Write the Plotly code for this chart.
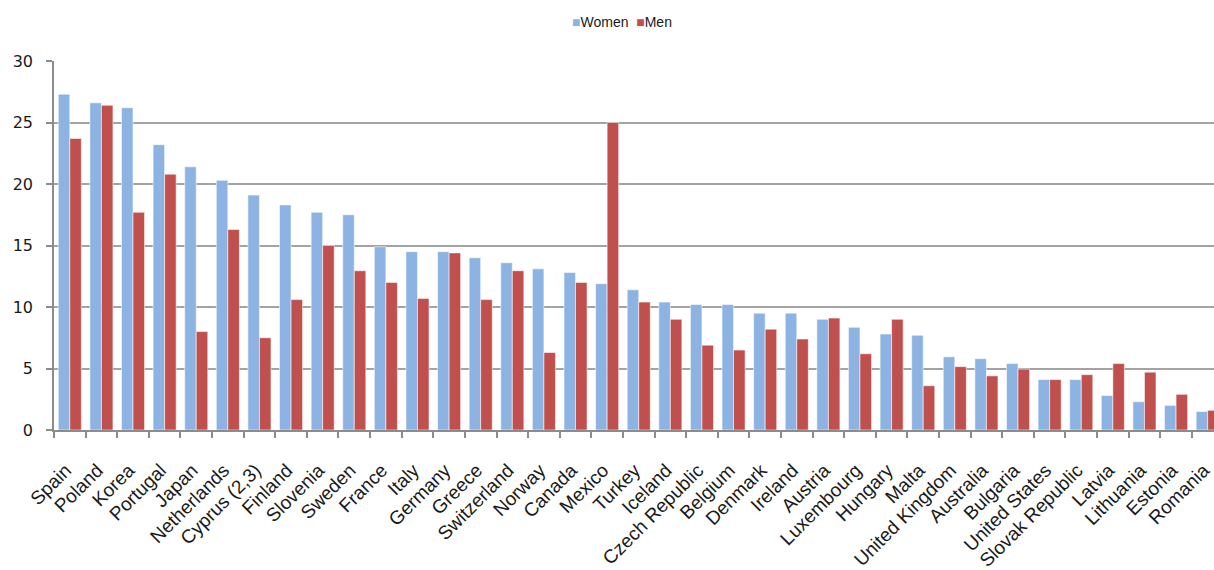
import plotly.graph_objects as go

countries = [
    "Spain", "Poland", "Korea", "Portugal", "Japan", "Netherlands", "Cyprus (2,3)",
    "Finland", "Slovenia", "Sweden", "France", "Italy", "Germany", "Greece",
    "Switzerland", "Norway", "Canada", "Mexico", "Turkey", "Iceland",
    "Czech Republic", "Belgium", "Denmark", "Ireland", "Austria", "Luxembourg",
    "Hungary", "Malta", "United Kingdom", "Australia", "Bulgaria",
    "United States", "Slovak Republic", "Latvia", "Lithuania", "Estonia", "Romania",
]

women = [
    27.3, 26.6, 26.2, 23.2, 21.4, 20.3, 19.1, 18.3, 17.7, 17.5, 14.9, 14.5,
    14.5, 14.0, 13.6, 13.1, 12.8, 11.9, 11.4, 10.4, 10.2, 10.2, 9.5, 9.5,
    9.0, 8.35, 7.8, 7.7, 5.95, 5.8, 5.4, 4.1, 4.1, 2.8, 2.3, 2.0, 1.5,
]

men = [
    23.7, 26.4, 17.7, 20.8, 8.0, 16.3, 7.5, 10.6, 15.0, 12.95, 12.0, 10.7,
    14.4, 10.6, 12.95, 6.3, 12.0, 25.0, 10.4, 9.0, 6.9, 6.5, 8.2, 7.4,
    9.1, 6.2, 9.0, 3.6, 5.15, 4.4, 4.95, 4.1, 4.5, 5.4, 4.7, 2.9, 1.6,
]

y_ticks = [0, 5, 10, 15, 20, 25, 30]

BLUE = "#8db3e2"
RED = "#c0504d"
EDGE = "rgba(255,255,255,0.55)"
SANS = "Liberation Sans, Arial, sans-serif"

fig = go.Figure()
fig.add_trace(go.Bar(
    name="Women", x=countries, y=women,
    marker=dict(color=BLUE, line=dict(color=EDGE, width=1)),
))
fig.add_trace(go.Bar(
    name="Men", x=countries, y=men,
    marker=dict(color=RED, line=dict(color=EDGE, width=1)),
))

# compact key above the plot: small colour squares hugging their labels
key_text = (
    f"<span style='color:{BLUE}'>■</span>Women  "
    f"<span style='color:{RED}'>■</span>Men"
)
fig.add_annotation(
    text=key_text, xref="paper", yref="paper",
    x=0.49, y=1.106, xanchor="center", yanchor="middle",
    showarrow=False, font=dict(size=14, family=SANS, color="#1a1a1a"),
)

fig.update_layout(
    width=1214, height=570,
    margin=dict(l=54, r=0, t=61, b=140),
    paper_bgcolor="white", plot_bgcolor="white",
    barmode="group", bargap=0.27, bargroupgap=0,
    font=dict(family=SANS, color="#1a1a1a"),
    showlegend=False,
)

fig.update_xaxes(
    type="category",
    range=[-0.5, 36.2],
    tickangle=-45,
    tickfont=dict(size=19, family=SANS, color="#1a1a1a"),
    ticks="outside", tickson="boundaries", ticklen=6, tickcolor="#8c8c8c", tickwidth=1.5,
    ticklabelstandoff=20, ticklabelshift=-4,
    showline=True, linecolor="#8c8c8c", linewidth=1.5,
    showgrid=False, automargin=False, fixedrange=True,
)

fig.update_yaxes(
    range=[0, 30],
    tickvals=y_ticks,
    tickfont=dict(size=16, family="DejaVu Sans, Verdana, sans-serif", color="#1a1a1a"),
    ticks="outside", ticklen=6, tickcolor="#8c8c8c", tickwidth=1.5,
    showline=True, linecolor="#8c8c8c", linewidth=1.5,
    showgrid=True, gridcolor="#a3a3a3", gridwidth=1.5,
    zeroline=False, automargin=False, fixedrange=True,
    ticklabelstandoff=10,
)

fig.write_html("out.html")
